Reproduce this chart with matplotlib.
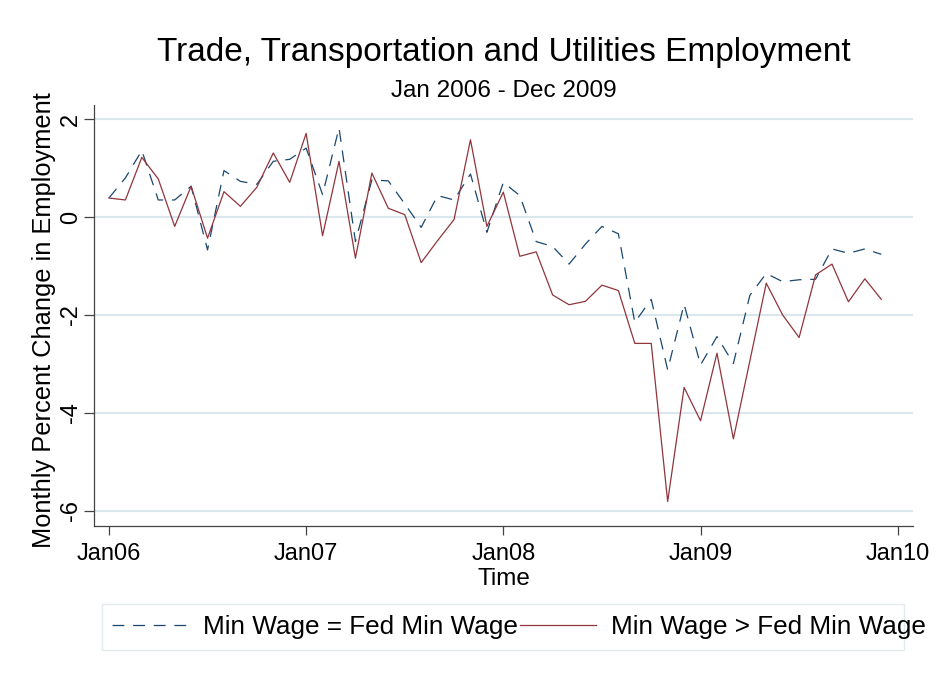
import numpy as np
import matplotlib.pyplot as plt
from matplotlib.patches import Rectangle

plt.rcParams['font.family'] = ['Liberation Sans', 'DejaVu Sans']

# monthly percent change, Jan 2006 .. Dec 2009
months = np.arange(48)
eq_fed = [0.39, 0.80, 1.36, 0.35, 0.35, 0.63, -0.67, 0.95, 0.73, 0.67, 1.14, 1.18,
          1.41, 0.46, 1.82, -0.50, 0.76, 0.74, 0.27, -0.21, 0.44, 0.35, 0.88, -0.31,
          0.71, 0.44, -0.50, -0.60, -0.96, -0.55, -0.19, -0.34, -2.15, -1.68, -3.12, -1.78,
          -3.02, -2.44, -2.99, -1.60, -1.15, -1.32, -1.28, -1.27, -0.65, -0.74, -0.65, -0.76]
gt_fed = [0.39, 0.35, 1.22, 0.78, -0.19, 0.63, -0.43, 0.52, 0.22, 0.61, 1.31, 0.71,
          1.71, -0.38, 1.14, -0.84, 0.90, 0.18, 0.05, -0.93, -0.48, -0.05, 1.58, -0.19,
          0.51, -0.80, -0.71, -1.59, -1.79, -1.72, -1.39, -1.50, -2.58, -2.58, -5.81, -3.48,
          -4.16, -2.78, -4.53, -2.94, -1.35, -2.00, -2.46, -1.18, -0.96, -1.73, -1.26, -1.68]
xticks = [0, 12, 24, 36, 48]
xlabels = ['Jan06', 'Jan07', 'Jan08', 'Jan09', 'Jan10']
yticks = [-6, -4, -2, 0, 2]

W, H = 936, 677
fig = plt.figure(figsize=(W / 100, H / 100), dpi=100)
ax = fig.add_axes([94 / W, 1 - 526 / H, (913 - 94) / W, (526 - 105) / H])

for y in yticks:
    ax.axhline(y, color='#dae7ed', lw=1.5, zorder=0)

l1, = ax.plot(months, eq_fed, color='#1a476f', lw=0.9, dashes=(9.5, 7),
              label='Min Wage = Fed Min Wage')
l2, = ax.plot(months, gt_fed, color='#90353b', lw=0.9,
              label='Min Wage > Fed Min Wage')

ax.set_xlim(-0.91, 48.93)
ax.set_ylim(-6.31, 2.29)
ax.set_xticks(xticks)
ax.set_xticklabels(xlabels)
ax.set_yticks(yticks)
ax.set_yticklabels([str(v) for v in yticks], rotation=90, va='center', ha='right')

for s in ['top', 'right']:
    ax.spines[s].set_visible(False)
for s in ['left', 'bottom']:
    ax.spines[s].set_color('#444444')
    ax.spines[s].set_linewidth(0.9)
ax.tick_params(axis='x', length=6.5, width=0.9, color='#444444', pad=6, labelsize=17)
ax.tick_params(axis='y', length=7, width=0.9, color='#444444', pad=1.5, labelsize=17)

ax.set_xlabel('Time', fontsize=17.5, labelpad=2)
ax.set_ylabel('Monthly Percent Change in Employment', fontsize=18.3)
ax.yaxis.set_label_coords(-0.047, 0.49)

fig.text(503.5 / W, 1 - 61 / H, 'Trade, Transportation and Utilities Employment',
         ha='center', va='baseline', fontsize=24)
fig.text(503.5 / W, 1 - 97 / H, 'Jan 2006 - Dec 2009',
         ha='center', va='baseline', fontsize=17.5)

# legend box
fig.patches.append(Rectangle((102 / W, 1 - 650 / H), (904 - 102) / W, 46 / H,
                             transform=fig.transFigure, facecolor='white',
                             edgecolor='#e2ecef', lw=1, zorder=0))
fig.legend(handles=[l1, l2], loc='center left', bbox_to_anchor=(112 / W, 1 - 627 / H),
           ncol=2, frameon=False, fontsize=18.8, borderpad=0, borderaxespad=0,
           handlelength=2.88, handletextpad=0.6, columnspacing=0.1)

fig.savefig('out.png', dpi=100)
